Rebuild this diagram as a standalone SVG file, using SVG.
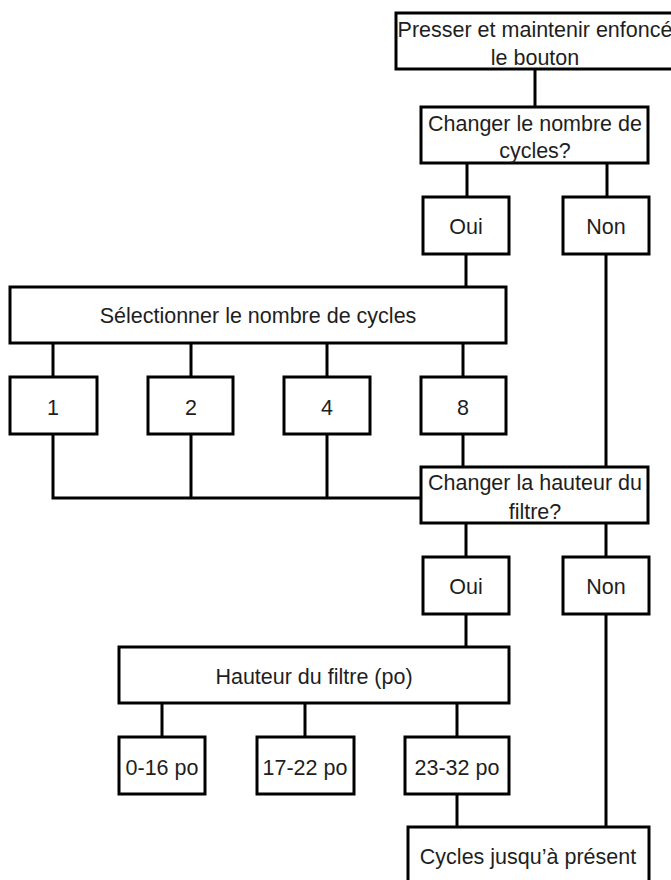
<svg xmlns="http://www.w3.org/2000/svg" width="671" height="880" viewBox="0 0 671 880">
<style>
rect{fill:#fff;stroke:#000;stroke-width:3}
.c path{fill:none;stroke:#000;stroke-width:3}
text{font-family:"Liberation Sans",Arial,sans-serif;font-size:21.5px;fill:#1e1e1e;text-anchor:middle}
</style>
<rect x="0" y="0" width="671" height="880" style="stroke:none;fill:#fff"/>
<g class="c" id="connectors">
<path d="M535 69V107"/>
<path d="M467 163V197M607 163V197"/>
<path d="M466 254V287"/>
<path d="M53 343V377M191 343V377M327 343V377M463 343V377"/>
<path d="M53 434V498H421M191 434V498M327 434V498"/>
<path d="M463 434V467"/>
<path d="M606 254V467"/>
<path d="M466 523V557M606 523V557"/>
<path d="M466 614V647"/>
<path d="M162 703V737M305 703V737M457 703V737"/>
<path d="M457 794V827"/>
<path d="M606 614V827"/>
</g>
<g id="start"><rect x="396" y="13" width="278" height="56"/><text x="535" y="37">Presser et maintenir enfoncé</text><text x="535" y="65">le bouton</text></g>
<g id="q1"><rect x="421" y="107" width="227" height="56"/><text x="535" y="131">Changer le nombre de</text><text x="535" y="158">cycles?</text></g>
<g id="oui1"><rect x="423" y="197" width="86" height="57"/><text x="466" y="234">Oui</text></g>
<g id="non1"><rect x="563" y="197" width="86" height="57"/><text x="606" y="234">Non</text></g>
<g id="select"><rect x="10" y="287" width="496" height="56"/><text x="258" y="323">Sélectionner le nombre de cycles</text></g>
<g id="n1"><rect x="10" y="377" width="87" height="57"/><text x="53" y="415">1</text></g>
<g id="n2"><rect x="148" y="377" width="85" height="57"/><text x="191" y="415">2</text></g>
<g id="n4"><rect x="284" y="377" width="86" height="57"/><text x="327" y="415">4</text></g>
<g id="n8"><rect x="421" y="377" width="85" height="57"/><text x="463" y="415">8</text></g>
<g id="q2"><rect x="421" y="467" width="227" height="56"/><text x="535" y="490">Changer la hauteur du</text><text x="535" y="519">filtre?</text></g>
<g id="oui2"><rect x="423" y="557" width="86" height="57"/><text x="466" y="594">Oui</text></g>
<g id="non2"><rect x="563" y="557" width="86" height="57"/><text x="606" y="594">Non</text></g>
<g id="hauteur"><rect x="119" y="647" width="390" height="56"/><text x="314" y="684">Hauteur du filtre (po)</text></g>
<g id="h1"><rect x="119" y="737" width="86" height="57"/><text x="162" y="775">0-16 po</text></g>
<g id="h2"><rect x="257" y="737" width="97" height="57"/><text x="305" y="775">17-22 po</text></g>
<g id="h3"><rect x="405" y="737" width="104" height="57"/><text x="457" y="775">23-32 po</text></g>
<g id="end"><rect x="408" y="827" width="241" height="70"/><text x="528" y="864">Cycles jusqu’à présent</text></g>
</svg>
